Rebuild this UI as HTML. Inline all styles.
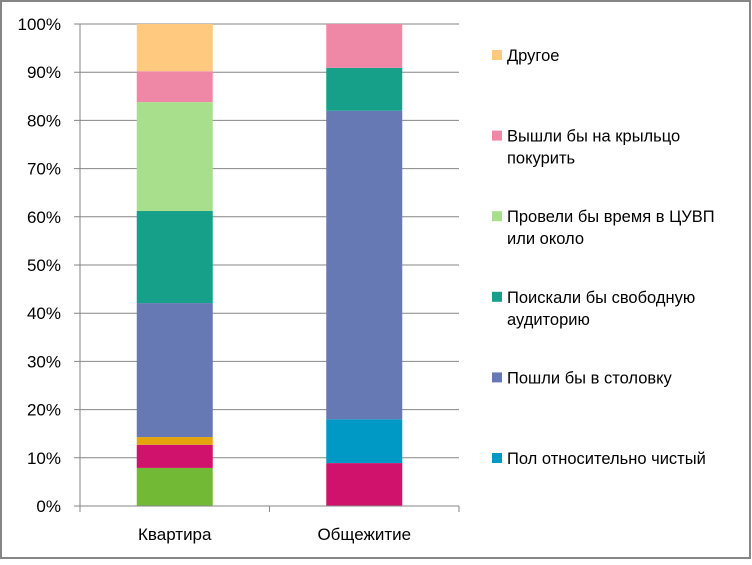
<!DOCTYPE html>
<html><head><meta charset="utf-8"><style>
body{margin:0;background:#fff}
svg text{font-family:"Liberation Sans","DejaVu Sans",sans-serif}
</style></head><body>
<svg id="c" width="752" height="560" xmlns="http://www.w3.org/2000/svg">
<rect x="1" y="1" width="749" height="557" fill="#fff" stroke="#868686" stroke-width="2"/>
<g id="grid"></g><g id="bars"></g><g id="axes"></g><g id="legend"></g>
</svg>
<script>
const categories=["Квартира","Общежитие"];
const seriesNames=["Зелёный","Малиновый","Оранжевый","Пол относительно чистый","Пошли бы в столовку","Поискали бы свободную аудиторию","Провели бы время в ЦУВП или около","Вышли бы на крыльцо покурить","Другое"];
const seriesColors=["#72b935","#d1126c","#e3a40c","#0099c6","#6679b4","#16a08a","#a8df8c","#ef88a7","#ffca7f"];
const kvartira=[7.9,4.8,1.6,0,27.8,19.1,22.6,6.4,9.8];
const obshezhitie=[0,8.9,0,9.1,64.0,8.9,0,9.1,0];
const values=[kvartira,obshezhitie];
const yTicks=[0,10,20,30,40,50,60,70,80,90,100];
const legendItems=[[8,["Другое"]],[7,["Вышли бы на крыльцо","покурить"]],[6,["Провели бы время в ЦУВП","или около"]],[5,["Поискали бы свободную","аудиторию"]],[4,["Пошли бы в столовку"]],[3,["Пол относительно чистый"]]];
const NS="http://www.w3.org/2000/svg";
const X0=80,X1=459,Y0=506,Y1=24;
const y=v=>Y0-(v/100)*(Y0-Y1);
const band=(X1-X0)/categories.length;
const xc=i=>X0+band*(i+0.5);
const BW=76;
function mk(t,a,p){const e=document.createElementNS(NS,t);for(const k in a)e.setAttribute(k,a[k]);p.appendChild(e);return e;}
const grid=document.getElementById('grid'),bars=document.getElementById('bars'),axes=document.getElementById('axes'),leg=document.getElementById('legend');
yTicks.forEach(t=>{
 const l=mk('line',{x1:X0-6,x2:X1,y1:y(t),y2:y(t),stroke:'#868686','stroke-width':1},grid);
 
 
 const tx=mk('text',{x:61,y:y(t)+6,'text-anchor':'end','font-size':17,fill:'#000'},axes);
 tx.textContent=t+'%';
 
 
});
const ya=mk('line',{x1:X0,x2:X0,y1:Y1,y2:Y0,stroke:'#868686'},axes);


const xa=mk('line',{x1:X0,x2:X1,y1:Y0,y2:Y0,stroke:'#868686'},axes);


for(let i=0;i<=categories.length;i++){const tk=mk('line',{x1:X0+band*i,x2:X0+band*i,y1:Y0,y2:Y0+6,stroke:'#868686'},axes);
 
 }
categories.forEach((c,i)=>{
 let acc=0;
 values[i].forEach((v,s)=>{
  if(v<=0)return;
  const r=mk('rect',{x:xc(i)-BW/2,y:y(acc+v),width:BW,height:y(acc)-y(acc+v),fill:seriesColors[s]},bars);
  
  
  acc+=v;
 });
 const t=mk('text',{x:xc(i),y:540,'text-anchor':'middle','font-size':17},axes);
 t.textContent=c;
 
 
});
legendItems.forEach((it,k)=>{
 const cy=55+k*80.6;
 const g=mk('g',{},leg);
 
 
 const top=cy;
 mk('rect',{x:492,y:top-5,width:10,height:10,fill:seriesColors[it[0]]},g);
 it[1].forEach((ln,j)=>{const t=mk('text',{x:507,y:top+6+j*22,'font-size':16.5},g);t.textContent=ln;});
});
</script>
</body></html>
